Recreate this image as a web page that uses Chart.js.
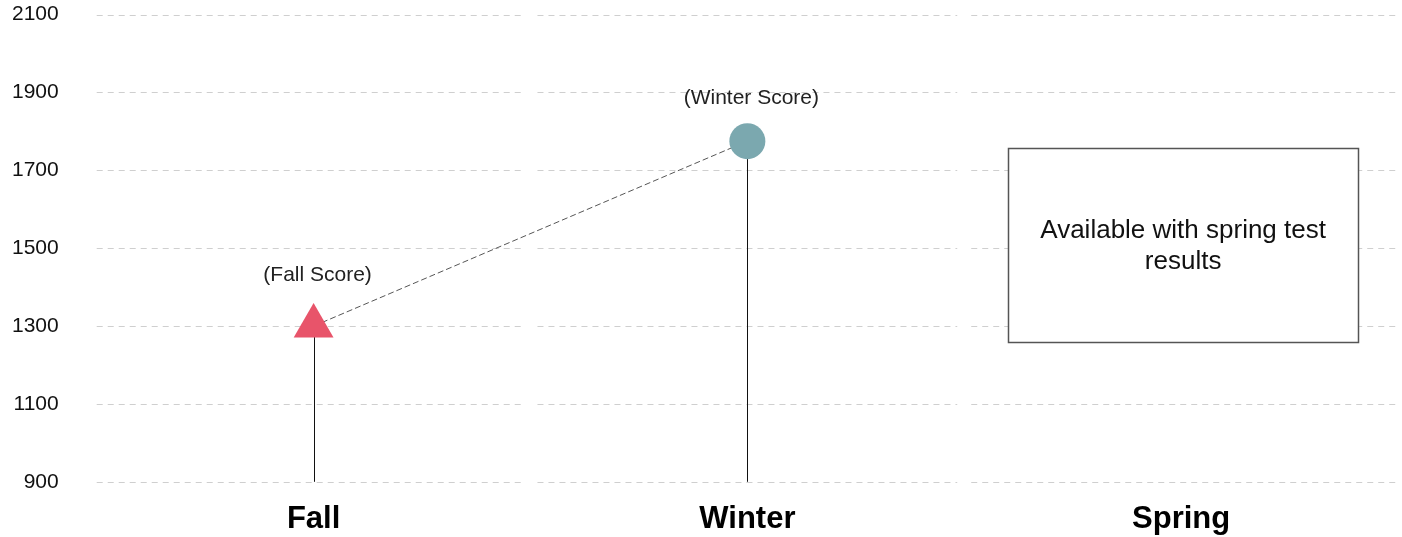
<!DOCTYPE html>
<html>
<head>
<meta charset="utf-8">
<script src="https://cdn.jsdelivr.net/npm/chart.js@4"></script>
<style>
    html, body { margin: 0; padding: 0; background: #fff; }
    #wrap { width: 1402px; height: 537px; position: relative; }
</style>
</head>
<body>
<div id="wrap"><canvas id="scoreChart"></canvas></div>
<script>
// --- Chart data ---
const seasons = ["Fall", "Winter", "Spring"];
const scores = [1300, 1775, null];
const scoreLabels = ["(Fall Score)", "(Winter Score)", ""];
const yTicks = [900, 1100, 1300, 1500, 1700, 1900, 2100];
const pendingNote = ["Available with spring test", "results"];

const FONT = "'Liberation Sans', Arial, Helvetica, sans-serif";

// Gridlines broken per season, drop lines, score labels and the spring box
const seasonDecor = {
    id: 'seasonDecor',
    beforeDatasetsDraw(chart) {
        const { ctx, chartArea, scales: { x, y } } = chart;
        const gap = 7;
        const n = seasons.length;
        ctx.save();
        ctx.strokeStyle = '#cfcfcf';
        ctx.lineWidth = 1;
        ctx.setLineDash([6, 5]);
        yTicks.forEach(v => {
            const py = Math.round(y.getPixelForValue(v)) + 0.5;
            for (let i = 0; i < n; i++) {
                const left = i === 0 ? chartArea.left
                    : (x.getPixelForValue(i - 1) + x.getPixelForValue(i)) / 2 + gap;
                const right = i === n - 1 ? chartArea.right
                    : (x.getPixelForValue(i) + x.getPixelForValue(i + 1)) / 2 - gap;
                ctx.beginPath();
                ctx.moveTo(left, py);
                ctx.lineTo(right, py);
                ctx.stroke();
            }
        });

        // vertical drop lines from each score to the axis floor
        ctx.setLineDash([]);
        ctx.strokeStyle = '#111';
        chart.getDatasetMeta(0).data.forEach((pt, i) => {
            if (scores[i] == null) return;
            const px = Math.round(pt.x) + 0.5;
            ctx.beginPath();
            ctx.moveTo(px, pt.y);
            ctx.lineTo(px, chartArea.bottom);
            ctx.stroke();
        });
        ctx.restore();
    },
    afterDatasetsDraw(chart) {
        const { ctx, scales: { x, y } } = chart;
        ctx.save();
        ctx.fillStyle = '#222';
        ctx.font = `21px ${FONT}`;
        ctx.textAlign = 'center';
        ctx.textBaseline = 'middle';
        const meta = chart.getDatasetMeta(0);
        meta.data.forEach((pt, i) => {
            if (scores[i] == null || !scoreLabels[i]) return;
            const lift = i === 0 ? 51 : 43;
            ctx.fillText(scoreLabels[i], pt.x + 4, pt.y - lift);
        });

        // placeholder box for the season without a score
        const idx = scores.findIndex(s => s == null);
        if (idx >= 0) {
            const cx = x.getPixelForValue(idx);
            const top = Math.round(y.getPixelForValue(1757)) + 0.5;
            const bottom = Math.round(y.getPixelForValue(1260)) + 0.5;
            const left = Math.round(cx - 173) + 0.5;
            const right = Math.round(cx + 177) + 0.5;
            ctx.fillStyle = '#fff';
            ctx.fillRect(left, top, right - left, bottom - top);
            ctx.strokeStyle = '#555';
            ctx.lineWidth = 1.5;
            ctx.strokeRect(left, top, right - left, bottom - top);
            ctx.fillStyle = '#111';
            ctx.font = `26px ${FONT}`;
            const mid = (top + bottom) / 2;
            ctx.fillText(pendingNote[0], cx + 2, mid - 15);
            ctx.fillText(pendingNote[1], cx + 2, mid + 16);
        }
        ctx.restore();
    }
};

new Chart(document.getElementById('scoreChart'), {
    type: 'line',
    data: {
        labels: seasons,
        datasets: [{
            label: 'Score',
            data: scores,
            borderColor: '#555',
            borderWidth: 1,
            borderDash: [6, 3],
            fill: false,
            tension: 0,
            pointStyle: ['triangle', 'circle', 'circle'],
            pointRadius: [23, 18, 0],
            pointBackgroundColor: ['#e8546a', '#7ba8af', '#7ba8af'],
            pointBorderWidth: 0,
            pointHoverRadius: [23, 18, 0]
        }]
    },
    options: {
        responsive: true,
        maintainAspectRatio: false,
        animation: false,
        layout: { autoPadding: false, padding: { top: 3, left: 10, right: 4, bottom: -12 } },
        plugins: {
            legend: { display: false },
            tooltip: { enabled: false }
        },
        scales: {
            x: {
                offset: true,
                grid: { display: false, drawTicks: true, tickLength: 8 },
                border: { display: false },
                ticks: {
                    color: '#000',
                    padding: 11,
                    font: { family: FONT, size: 31, weight: 'bold' }
                }
            },
            y: {
                min: 900,
                max: 2100,
                grid: { display: false, drawTicks: true, tickLength: 36 },
                border: { display: false },
                afterBuildTicks: axis => { axis.ticks = yTicks.map(v => ({ value: v })); },
                ticks: {
                    color: '#111',
                    padding: 2,
                    font: { family: FONT, size: 21 },
                    callback: v => String(v)
                }
            }
        }
    },
    plugins: [seasonDecor]
});
</script>
</body>
</html>
